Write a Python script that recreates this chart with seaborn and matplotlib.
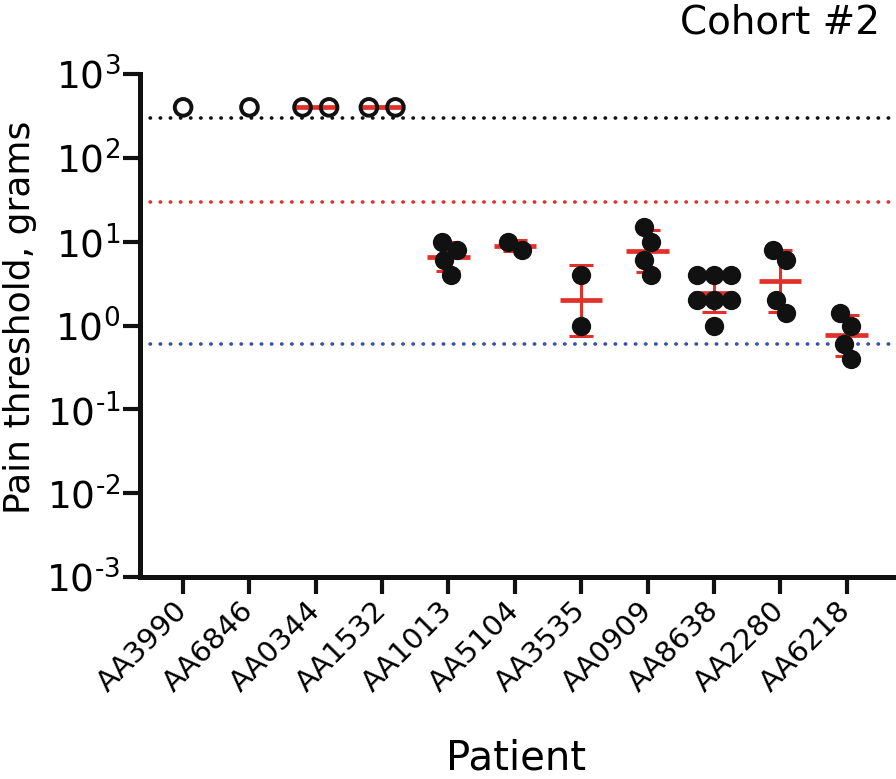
import numpy as np
import pandas as pd
import matplotlib
matplotlib.use("Agg")
import matplotlib.pyplot as plt
import seaborn as sns

# ---------------- data ----------------
patients = ["AA3990", "AA6846", "AA0344", "AA1532", "AA1013", "AA5104",
            "AA3535", "AA0909", "AA8638", "AA2280", "AA6218"]
aa3990 = [400]
aa6846 = [400]
aa0344 = [400, 400]
aa1532 = [400, 400]
aa1013 = [10, 8, 6, 4]
aa5104 = [8, 10]
aa3535 = [4, 1]
aa0909 = [10, 15, 4, 6]
aa8638 = [4, 4, 4, 2, 2, 2, 1]
aa2280 = [6, 8, 2, 1.4]
aa6218 = [1, 1.4, 0.6, 0.4]
no_response = ["AA3990", "AA6846", "AA0344", "AA1532"]   # open markers (above cutoff)
cutoff_values = [300, 30, 0.6]
decades = [-3, -2, -1, 0, 1, 2, 3]

values = [aa3990, aa6846, aa0344, aa1532, aa1013, aa5104,
          aa3535, aa0909, aa8638, aa2280, aa6218]

rows = []
for p, vals in zip(patients, values):
    for v in vals:
        rows.append({"patient": p, "value": v, "open": p in no_response})
df = pd.DataFrame(rows)

# ---------------- style ----------------
sns.set_style("ticks")
plt.rcParams["font.family"] = ["DejaVu Sans"]
plt.rcParams["mathtext.default"] = "regular"
for key in ["text.color", "axes.labelcolor", "xtick.color", "ytick.color",
            "axes.edgecolor"]:
    plt.rcParams[key] = "black"

RED = "#E2302B"
BLUE = "#3C4DA5"
BLACK = "#111111"
line_colors = [BLACK, RED, BLUE]

fig = plt.figure(figsize=(8.96, 7.79), dpi=100)
W, H = 896, 779
ax = fig.add_axes([140 / W, 1 - 577 / H, 753 / W, 503 / H])
ax.set_yscale("log")
ax.set_ylim(1e-3, 1e3)

# cutoff lines
for v, c in zip(cutoff_values, line_colors):
    ax.axhline(v, color=c, lw=2.6, linestyle=(0, (0.1, 2.7)),
               dash_capstyle="round", zorder=1)

# geometric mean +/- geometric SD
for i, (p, vals) in enumerate(zip(patients, values)):
    lv = np.log10(np.asarray(vals, dtype=float))
    if len(lv) < 2:
        continue
    m = lv.mean()
    s = lv.std(ddof=1)
    gm, lo, hi = 10 ** m, 10 ** (m - s), 10 ** (m + s)
    ax.hlines(gm, i - 0.32, i + 0.32, color=RED, lw=3.4, zorder=2)
    if s > 0:
        ax.errorbar([i], [gm], yerr=[[gm - lo], [hi - gm]], fmt="none",
                    ecolor=RED, elinewidth=2.2, capsize=8.3, capthick=2.2,
                    zorder=2)

open_df = df[df["open"]]
fill_df = df[~df["open"]]

ax.set_xlim(-0.65, 10.7)

n0 = len(ax.collections)
sns.swarmplot(data=open_df, x="patient", y="value", order=patients,
              color=BLACK, size=16.5, linewidth=2.8, edgecolor=BLACK,
              ax=ax, zorder=3)
open_colls = ax.collections[n0:]
n1 = len(ax.collections)
sns.swarmplot(data=fill_df, x="patient", y="value", order=patients,
              color=BLACK, size=11.5, linewidth=0, ax=ax, zorder=3)
fill_colls = ax.collections[n1:]

ax.set_xlim(-0.65, 10.7)
ax.set_ylim(1e-3, 1e3)

# lay out the swarms, then centre each one and set final marker sizes
fig.canvas.draw()
for colls, size in [(open_colls, 12.0), (fill_colls, 13.9)]:
    for coll in colls:
        if "draw" in coll.__dict__:
            del coll.draw
        offs = np.array(coll.get_offsets(), dtype=float)
        if len(offs):
            mean_x = offs[:, 0].mean()
            offs[:, 0] += np.round(mean_x) - mean_x
            coll.set_offsets(offs)
        coll.set_sizes([size ** 2])
for coll in open_colls:
    coll.set_facecolor("none")
    coll.set_edgecolor(BLACK)

# axes styling
for side in ["top", "right"]:
    ax.spines[side].set_visible(False)
for side in ["left", "bottom"]:
    ax.spines[side].set_linewidth(3.6)
    ax.spines[side].set_color(BLACK)
ax.tick_params(axis="both", which="major", length=12, width=3.0,
               color=BLACK, direction="out")
ax.tick_params(axis="y", which="minor", length=0)
ax.tick_params(axis="y", pad=2, labelsize=27)
ax.tick_params(axis="x", pad=9, labelsize=21)

ax.set_yticks([10.0 ** d for d in decades])
ax.set_yticklabels([r"$\mathregular{10^{%s}}$" % str(d).replace("-", "\u2010")
                    for d in decades])
ax.set_xticks(range(len(patients)))
ax.set_xticklabels(patients, rotation=45, ha="right",
                   rotation_mode="anchor", va="center")

ax.set_xlabel("Patient", fontsize=29)
ax.xaxis.label.set_va("baseline")
ax.xaxis.set_label_coords(0.5, (577 - 770) / 503)
ax.set_ylabel("Pain threshold, grams", fontsize=26)
ax.yaxis.label.set_va("center")
ax.yaxis.set_label_coords((20 - 140) / 753, (577 - 317) / 503)

fig.text(880 / W, 1 - 4 / H, "Cohort #2", ha="right", va="top", fontsize=28)

fig.savefig("out.png", dpi=100)
